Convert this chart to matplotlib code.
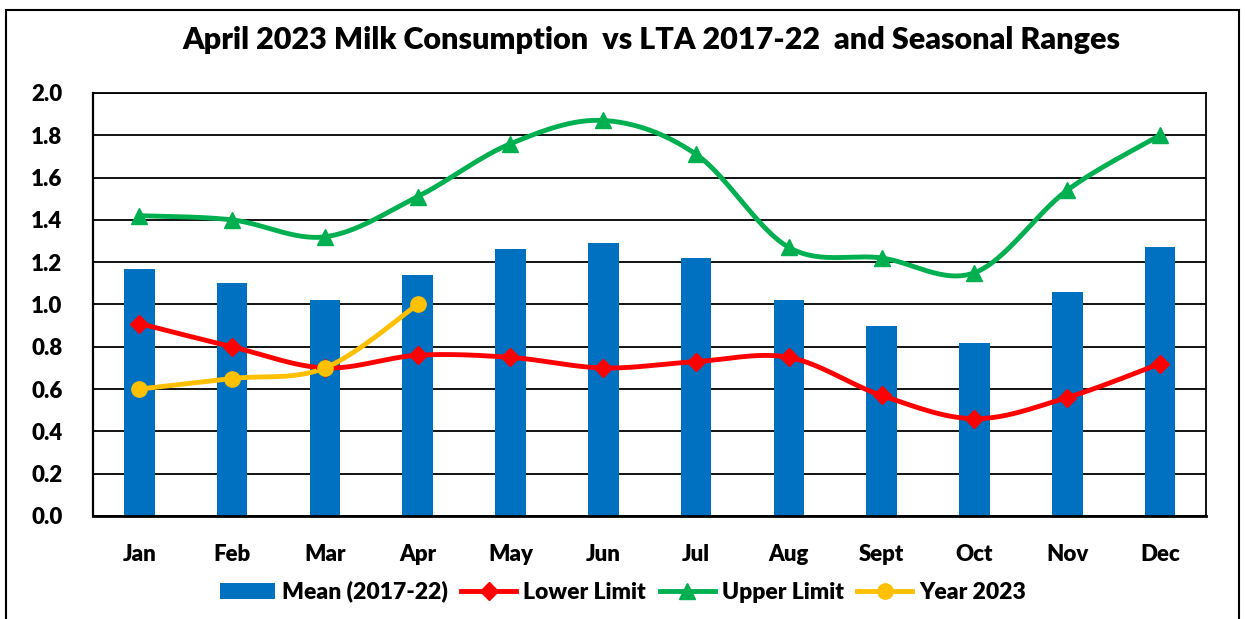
import numpy as np
import matplotlib.pyplot as plt
from matplotlib.patches import Rectangle

plt.rcParams['font.family'] = ['Lato', 'DejaVu Sans']
plt.rcParams['font.weight'] = 'heavy'

# data
months = ['Jan', 'Feb', 'Mar', 'Apr', 'May', 'Jun', 'Jul', 'Aug', 'Sept', 'Oct', 'Nov', 'Dec']
mean_1722 = [1.17, 1.10, 1.02, 1.14, 1.26, 1.29, 1.22, 1.02, 0.90, 0.82, 1.06, 1.27]
lower_lim = [0.91, 0.80, 0.70, 0.76, 0.75, 0.70, 0.73, 0.75, 0.57, 0.46, 0.56, 0.72]
upper_lim = [1.42, 1.40, 1.32, 1.51, 1.76, 1.87, 1.71, 1.27, 1.22, 1.15, 1.54, 1.80]
year_2023 = [0.60, 0.65, 0.70, 1.00]


def smooth(x, y, n=30):
    # Excel-style smoothed line (Catmull-Rom through the points)
    x = np.asarray(x, float)
    y = np.asarray(y, float)
    px = np.concatenate([[x[0]], x, [x[-1]]])
    py = np.concatenate([[y[0]], y, [y[-1]]])
    xs, ys = [], []
    for i in range(1, len(px) - 2):
        p0, p1, p2, p3 = [np.array([px[j], py[j]]) for j in (i - 1, i, i + 1, i + 2)]
        c1 = p1 + (p2 - p0) / 6
        c2 = p2 - (p3 - p1) / 6
        t = np.linspace(0, 1, n)[:, None]
        pts = (1 - t) ** 3 * p1 + 3 * (1 - t) ** 2 * t * c1 + 3 * (1 - t) * t ** 2 * c2 + t ** 3 * p2
        xs.append(pts[:, 0])
        ys.append(pts[:, 1])
    return np.concatenate(xs), np.concatenate(ys)


fig = plt.figure(figsize=(12.46, 6.19), dpi=100)
fig.patches.append(Rectangle((0.0048, -0.01), 0.9896, 0.994, transform=fig.transFigure,
                             fill=False, edgecolor='black', linewidth=1.5))
ax = fig.add_axes([0.0746, 0.1664, 0.8936, 0.6834])

x = np.arange(len(months))
ax.bar(x, mean_1722, width=0.33, color='#0070C0', label='Mean (2017-22)', zorder=2)

lines = [(lower_lim, '#FF0000', 'D', 9, 'Lower Limit'),
         (upper_lim, '#00B050', '^', 11, 'Upper Limit'),
         (year_2023, '#FFC000', 'o', 11, 'Year 2023')]
for vals, col, mk, ms, lab in lines:
    xx = x[:len(vals)]
    sx, sy = smooth(xx, vals)
    ax.plot(sx, sy, color=col, linewidth=3.5, zorder=3)
    ax.plot(xx, vals, linestyle='none', marker=mk, markersize=ms, color=col, zorder=4)
    ax.plot([], [], color=col, linewidth=3.5, marker=mk, markersize=ms, label=lab)

ax.set_xlim(-0.5, 11.5)
ax.set_ylim(0, 2.0)
ax.set_yticks(np.arange(0, 2.01, 0.2))
ax.set_yticklabels([f'{v:.1f}' for v in np.arange(0, 2.01, 0.2)])
ax.set_xticks(x)
ax.set_xticklabels(months)
ax.yaxis.grid(True, color='black', linewidth=1.3, zorder=1)
ax.set_axisbelow(True)
ax.tick_params(length=0, labelsize=16)
ax.tick_params(axis='y', pad=22)
ax.tick_params(axis='x', pad=20)
for s in ax.spines.values():
    s.set_linewidth(1.3)
ax.spines['bottom'].set_linewidth(2)
ax.spines['left'].set_linewidth(1.6)

h, l = ax.get_legend_handles_labels()
order = [l.index(n) for n in ['Mean (2017-22)', 'Lower Limit', 'Upper Limit', 'Year 2023']]
fig.legend([h[i] for i in order], [l[i] for i in order], loc='center', ncol=4,
           bbox_to_anchor=(0.5, 0.044), frameon=False, fontsize=16.5,
           handlelength=2.4, handletextpad=0.3, columnspacing=0.6)

fig.text(0.523, 0.935, 'April 2023 Milk Consumption  vs LTA 2017-22  and Seasonal Ranges',
         ha='center', va='center', fontsize=22, fontweight='heavy')

fig.savefig('out.png', dpi=100)
